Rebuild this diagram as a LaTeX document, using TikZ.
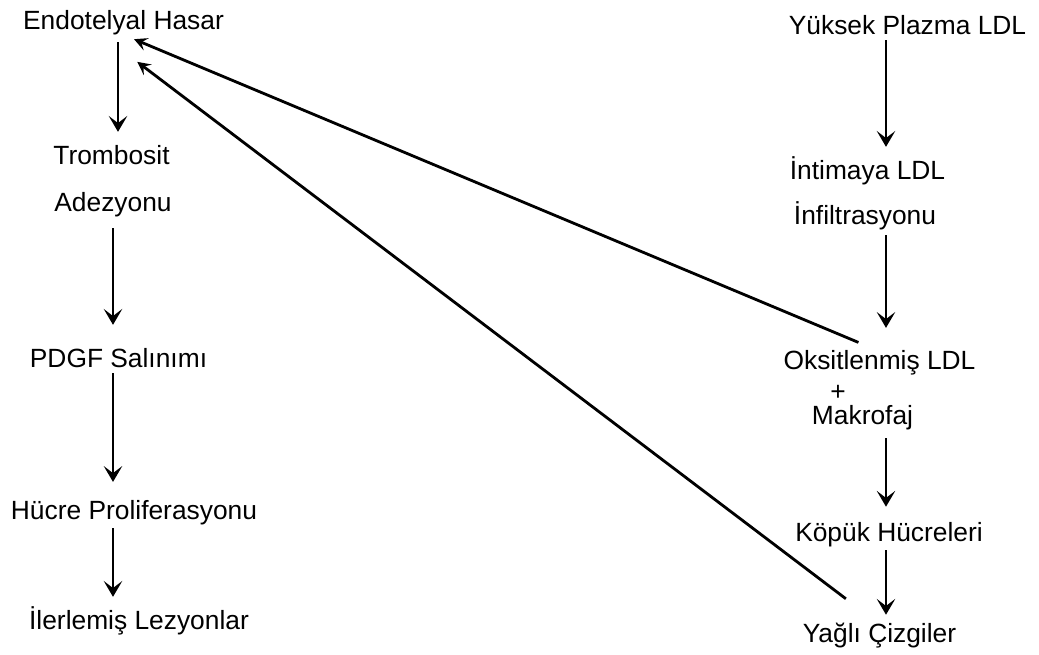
\documentclass[tikz,border=0pt]{standalone}
\usepackage{fontspec}
\setmainfont{Liberation Sans}
\usetikzlibrary{arrows.meta}
\tikzset{
  every picture/.style = {
    x=0.02cm, y=-0.02cm,
    font=\fontsize{15}{18}\selectfont
  },
  term/.style={
    inner sep = 0,
    text height = 10pt,
    text depth = 3pt
  },
  flow/.style={
    line width = 1pt,
    -{Stealth[length=9pt,width=10.5pt,inset=4pt]}
  },
  link/.style={
    line width = 1.6pt,
    -{Stealth[length=7.5pt,width=7.5pt,inset=3pt]}
  }
}

\begin{document}
\begin{tikzpicture}
    \useasboundingbox (0,0) rectangle (1039,654);
    % left chain
    \node[term] (hasar) at (123.5,23) {Endotelyal Hasar};
    \node[term] (trombosit) at (111.5,158) {Trombosit};
    \node[term] (adezyon) at (113,205) {Adezyonu};
    \node[term] (pdgf) at (118.5,361) {PDGF Salınımı};
    \node[term] (prolif) at (134,513) {Hücre Proliferasyonu};
    \node[term] (lezyon) at (139,623) {İlerlemiş Lezyonlar};
    % right chain
    \node[term] (ldl) at (907.5,28) {Yüksek Plazma LDL};
    \node[term] (intima) at (867.5,173) {İntimaya LDL};
    \node[term] (infil) at (865,218) {İnfiltrasyonu};
    \node[term] (oks) at (879.5,363) {Oksitlenmiş LDL};
    \node[term] (plus) at (838,394) {+};
    \node[term] (makro) at (862.5,418) {Makrofaj};
    \node[term] (kopuk) at (889,535) {Köpük Hücreleri};
    \node[term] (yagli) at (879.5,636) {Yağlı Çizgiler};
    % column axes
    \coordinate (colA) at (118,0);
    \coordinate (colL) at (113,0);
    \coordinate (colR) at (886,0);

    \draw[flow, shorten <=4.3pt, shorten >=8.2pt] (hasar.south -| colA) -- (trombosit.north -| colA);
    \draw[flow, shorten <=6.5pt, shorten >=13.9pt] (adezyon.south -| colL) -- (pdgf.north -| colL);
    \draw[flow, shorten <=0.3pt, shorten >=11pt] (pdgf.south -| colL) -- (prolif.north -| colL);
    \draw[flow, shorten <=2pt, shorten >=8.2pt] (prolif.south -| colL) -- (lezyon.north -| colL);

    \draw[flow, shorten <=0.3pt, shorten >=8.2pt] (ldl.south -| colR) -- (intima.north -| colR);
    \draw[flow, shorten <=3.1pt, shorten >=13.3pt] (infil.south -| colR) -- (oks.north -| colR);
    \draw[flow, shorten <=4.8pt, shorten >=9.4pt] (makro.south -| colR) -- (kopuk.north -| colR);
    \draw[flow, shorten <=2pt, shorten >=5.4pt] (kopuk.south -| colR) -- (yagli.north -| colR);

    % feedback to the endothelium
    \draw[link, shorten <=13pt, shorten >=6.5pt] (oks.north) -- (hasar.south);
    \draw[link, shorten <=24pt, shorten >=25.5pt] (yagli.north) -- ([xshift=-12.5pt]hasar.south);
\end{tikzpicture}
\end{document}
